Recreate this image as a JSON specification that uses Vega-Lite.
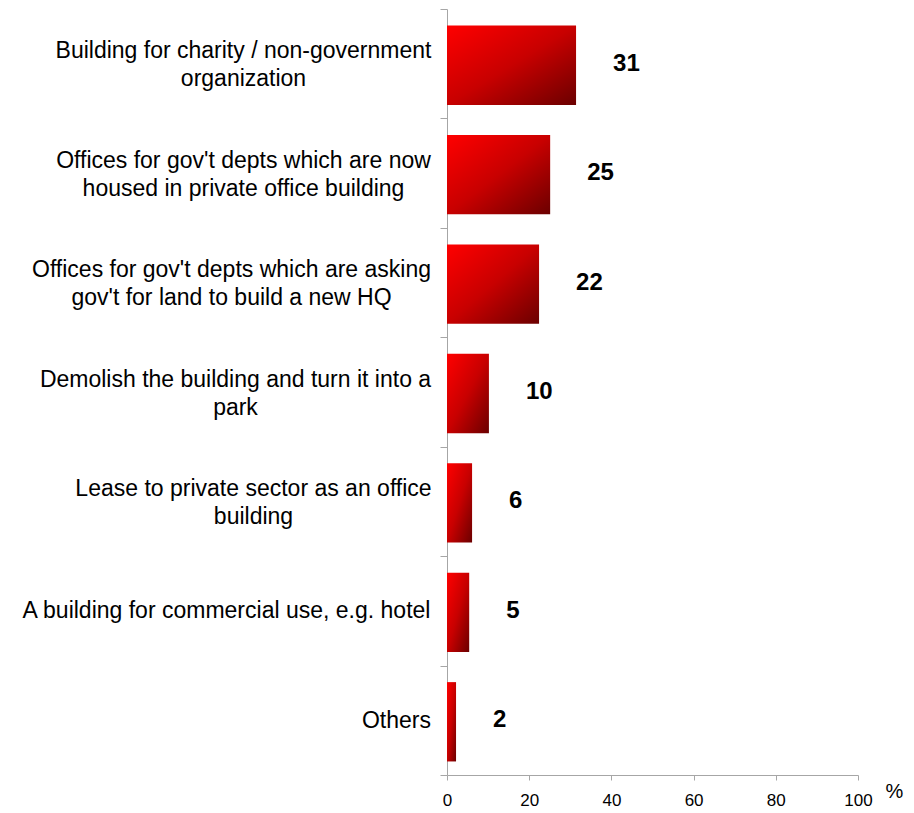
{
  "$schema": "https://vega.github.io/schema/vega-lite/v6.json",
  "width": 411,
  "height": 766,
  "autosize": "none",
  "padding": {"left": 447, "top": 9, "right": 56, "bottom": 38},
  "background": "white",
  "config": {"view": {"stroke": null}, "font": "Liberation Sans"},
  "data": {
    "values": [
      {"option": "Building for charity / non-government\norganization", "pct": 31.4},
      {"option": "Offices for gov't depts which are now\nhoused in private office building", "pct": 25.1},
      {"option": "Offices for gov't depts which are asking\ngov't for land to build a new HQ", "pct": 22.4},
      {"option": "Demolish the building and turn it into a\npark", "pct": 10.2},
      {"option": "Lease to private sector as an office\nbuilding", "pct": 6.1},
      {"option": "A building for commercial use, e.g. hotel", "pct": 5.4},
      {"option": "Others", "pct": 2.2}
    ]
  },
  "encoding": {
    "y": {
      "field": "option",
      "type": "nominal",
      "sort": null,
      "scale": {"paddingInner": 0, "paddingOuter": 0},
      "axis": {
        "title": null,
        "labelExpr": "split(datum.label, '\\n')",
        "labelFontSize": 23,
        "labelColor": "black",
        "labelAlign": "center",
        "labelBaseline": "middle",
        "labelLineHeight": 28,
        "labelLimit": 600,
        "labelOverlap": false,
        "tickBand": "extent",
        "tickSize": 7,
        "tickColor": "#a6a6a6",
        "domainColor": "#a6a6a6",
        "labelOffset": {
          "condition": [
            {"test": "test(/\\n/, datum.value)", "value": -13}
          ],
          "value": 0
        },
        "labelPadding": {
          "condition": [
            {"test": "test(/charity/, datum.value)", "value": 197},
            {"test": "test(/are now/, datum.value)", "value": 197},
            {"test": "test(/asking/, datum.value)", "value": 209},
            {"test": "test(/Demolish/, datum.value)", "value": 205},
            {"test": "test(/Lease/, datum.value)", "value": 187},
            {"test": "test(/commercial/, datum.value)", "value": 214}
          ],
          "value": 44
        }
      }
    }
  },
  "layer": [
    {
      "mark": {
        "type": "bar",
        "height": {"band": 0.725},
        "yOffset": 1.5,
        "color": {
          "gradient": "linear",
          "x1": 0, "y1": 0, "x2": 1, "y2": 1,
          "stops": [
            {"offset": 0, "color": "#ff0000"},
            {"offset": 0.5, "color": "#c80000"},
            {"offset": 1, "color": "#6b0000"}
          ]
        }
      },
      "encoding": {
        "x": {
          "field": "pct",
          "type": "quantitative",
          "scale": {"domain": [0, 100], "nice": false},
          "axis": {
            "title": "%",
            "values": [0, 20, 40, 60, 80, 100],
            "grid": false,
            "tickSize": 5,
            "tickColor": "#a6a6a6",
            "domainColor": "#a6a6a6",
            "labelFontSize": 17,
            "labelColor": "black",
            "labelPadding": 12,
            "labelFlush": false,
            "titleFontSize": 20,
            "titleFontWeight": "normal",
            "titleColor": "black",
            "titleX": 438,
            "titleY": 22,
            "titleAlign": "left",
            "titleBaseline": "alphabetic",
            "titleAngle": 0
          }
        }
      }
    },
    {
      "mark": {"type": "text", "align": "left", "baseline": "middle", "dx": 37, "dy": 0, "fontSize": 24, "fontWeight": "bold", "color": "black"},
      "encoding": {
        "x": {"field": "pct", "type": "quantitative"},
        "text": {"field": "pct", "type": "quantitative", "format": ".0f"}
      }
    }
  ]
}
